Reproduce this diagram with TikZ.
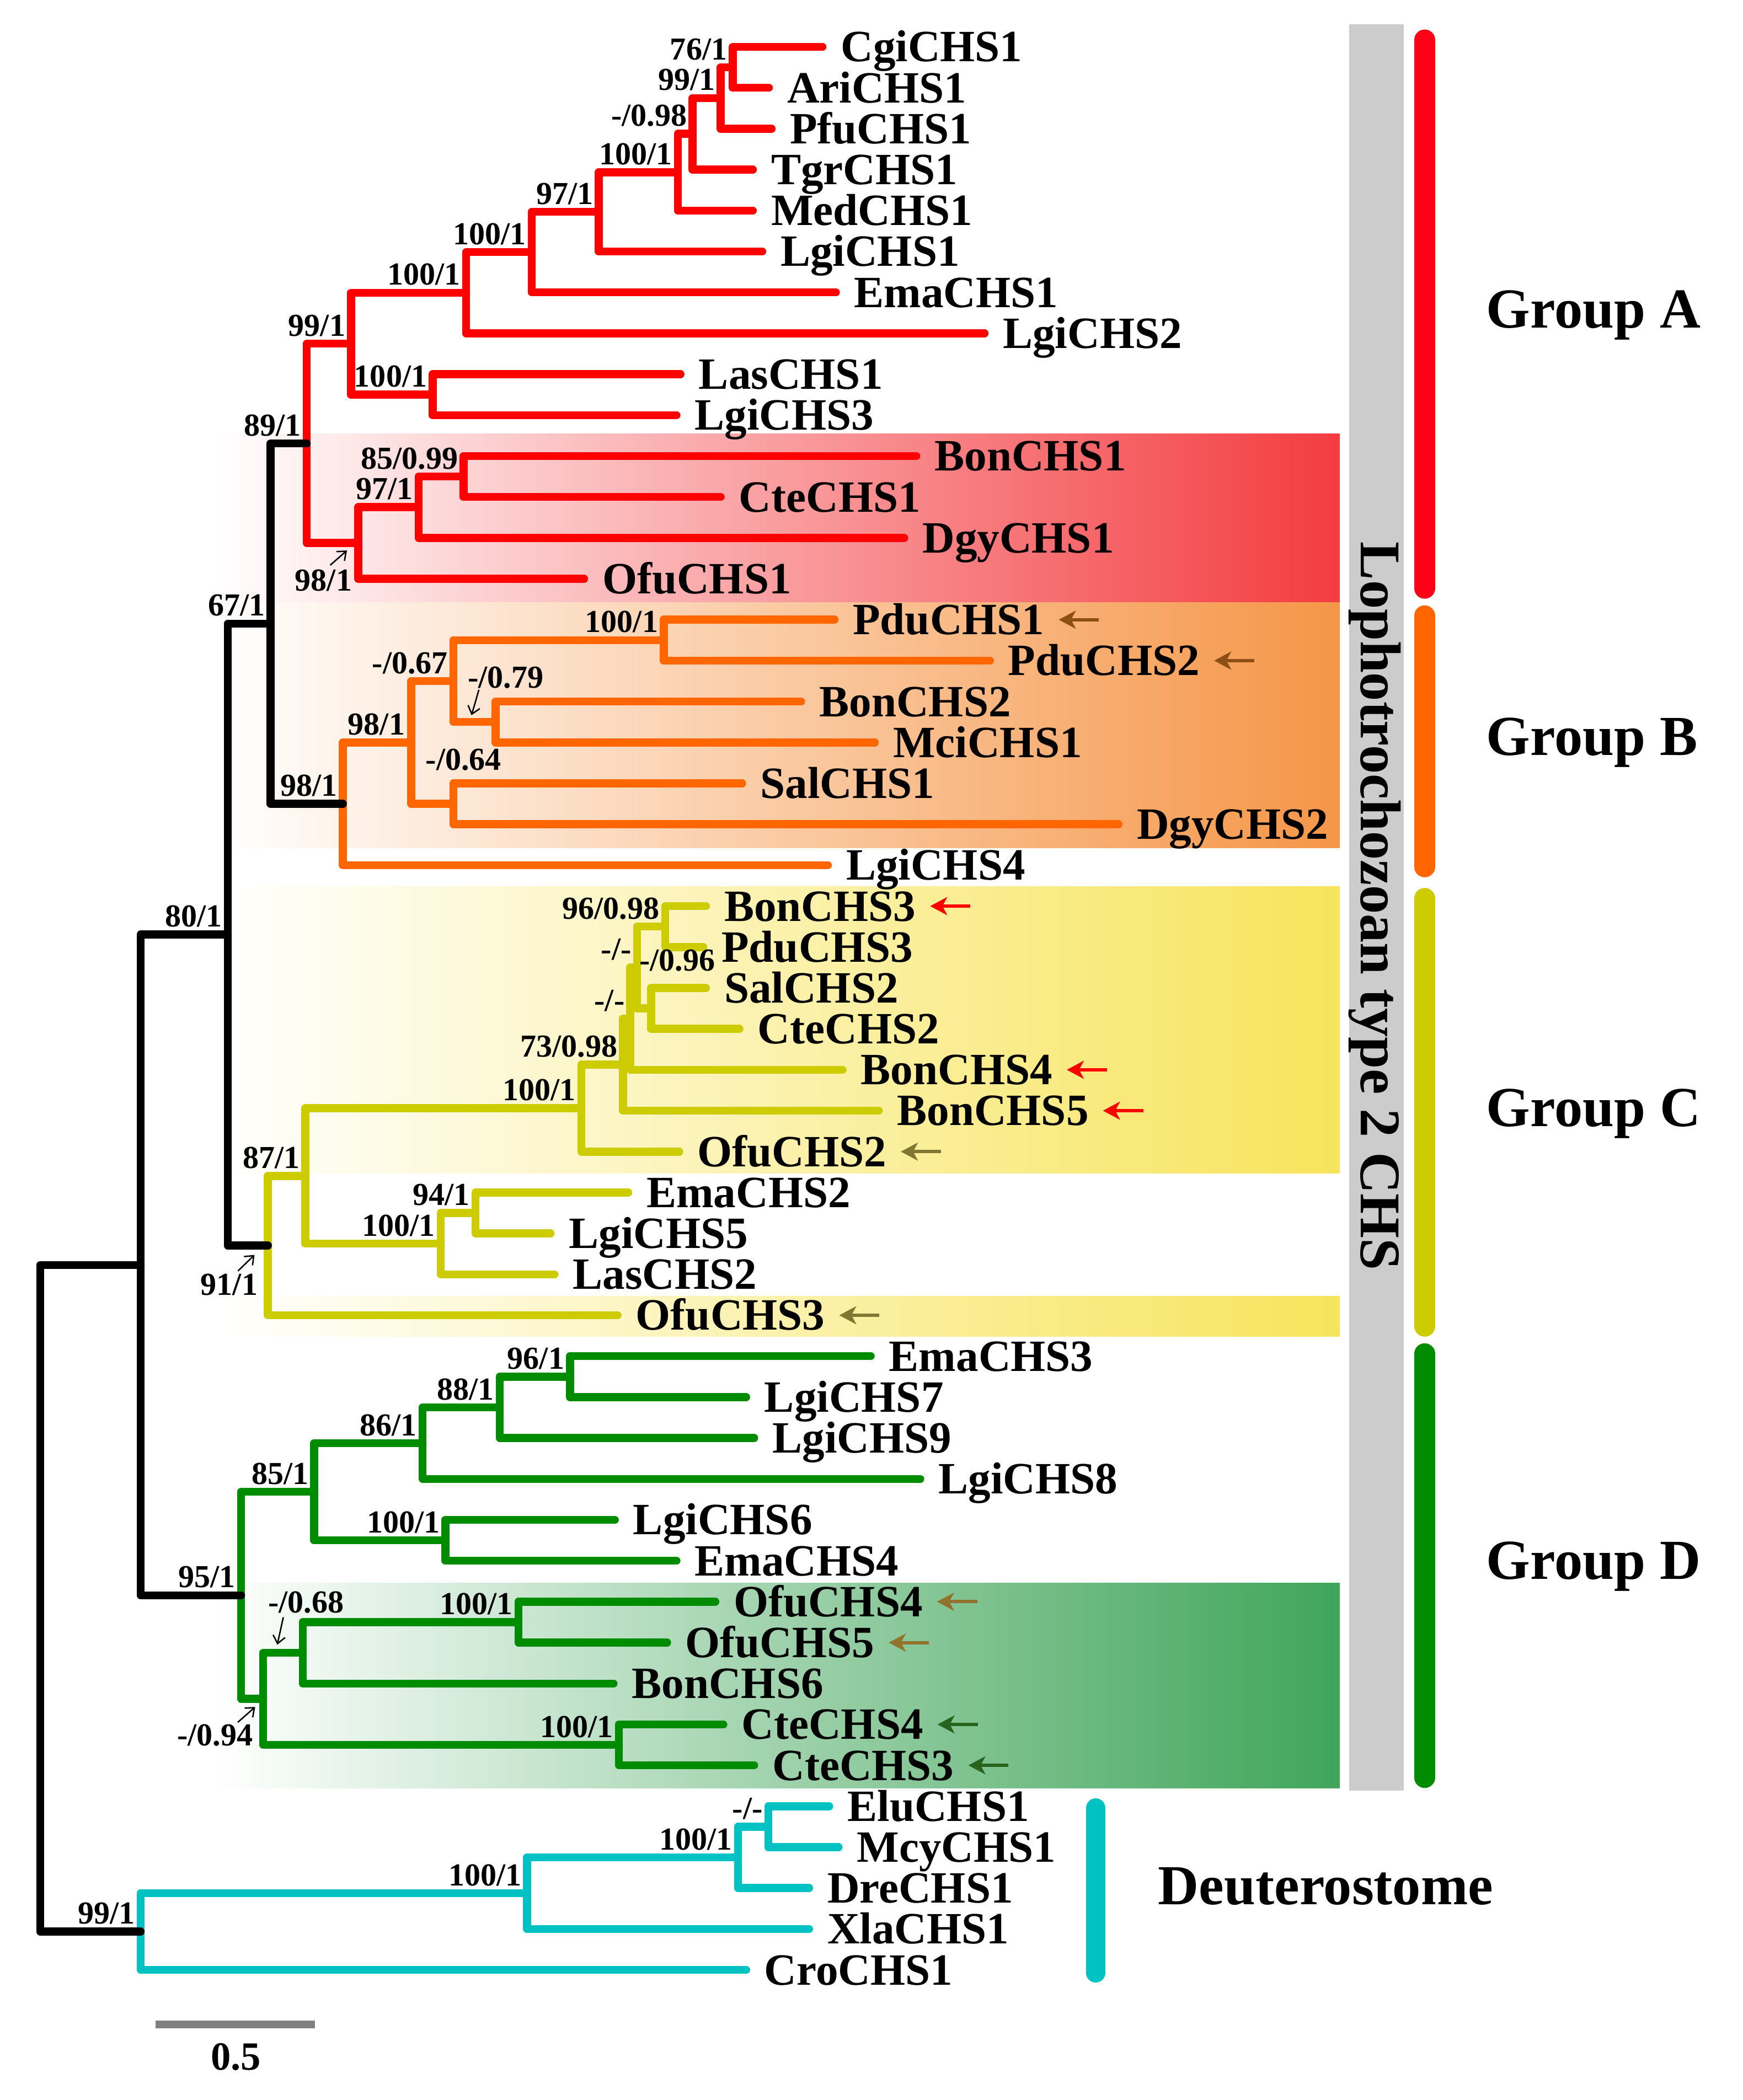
\documentclass[tikz,border=0pt]{standalone}
\usepackage{fontspec}
\setmainfont{Liberation Serif}
\usetikzlibrary{arrows.meta}

\definecolor{treered}{RGB}{255,0,0}
\definecolor{treeorange}{RGB}{255,102,0}
\definecolor{treeyellow}{RGB}{204,204,0}
\definecolor{treegreen}{RGB}{0,140,0}
\definecolor{treecyan}{RGB}{0,194,194}
\definecolor{boxred}{RGB}{243,60,64}
\definecolor{boxorange}{RGB}{245,150,72}
\definecolor{boxyellow}{RGB}{247,228,92}
\definecolor{boxgreen}{RGB}{64,165,90}
\definecolor{barred}{RGB}{255,0,24}
\definecolor{pduc}{RGB}{140,80,20}
\definecolor{ofuc}{RGB}{128,120,50}
\definecolor{ofud}{RGB}{145,115,45}
\definecolor{ctec}{RGB}{40,100,30}

\begin{document}
\begin{tikzpicture}[x=0.01cm, y=-0.01cm,
  br/.style={line width=1.7pt, line cap=round, line join=round},
  leaf/.style={anchor=west, inner sep=0pt, font=\fontsize{9.5}{11}\selectfont\bfseries, text height=6.3pt, text depth=0pt},
  bs/.style={anchor=south east, inner sep=0pt, xshift=-0.035cm, yshift=0.05cm, font=\fontsize{6.8}{8}\selectfont\bfseries, text height=4.6pt, text depth=0pt},
  bsat/.style={bs, anchor=base, xshift=0cm, yshift=0cm},
  flag/.style={line width=0.7pt, -{Stealth[length=3.6pt,width=3.8pt,inset=1pt]}},
  pointer/.style={line width=0.3pt, -{Straight Barb[length=1.6pt,width=2.6pt]}},
  grp/.style={anchor=west, inner sep=0pt, font=\fontsize{12}{14}\selectfont\bfseries, text height=7.9pt, text depth=0pt},
  colbar/.style={line width=0.155cm, line cap=round}]

\useasboundingbox (0,0) rectangle (1301,1568);

% shaded groups
\shade[left color=white, right color=boxred] (160,324) rectangle (1000,450);
\shade[left color=white, right color=boxorange] (160,450) rectangle (1000,633);
\shade[left color=white, right color=boxyellow] (160,662) rectangle (1000,876);
\shade[left color=white, right color=boxyellow] (160,968) rectangle (1000,998);
\shade[left color=white, right color=boxgreen] (160,1182) rectangle (1000,1335);

\fill[gray!40] (1007,18) rectangle (1048,1337);
\node[rotate=-90, anchor=base, inner sep=0pt, font=\fontsize{12.2}{14}\selectfont\bfseries] (loph) at (1016,676.5) {Lophotrochozoan type 2 CHS};

\draw[colbar, barred] (1063.5,29.75) -- (1063.5,439.25);
\draw[colbar, treeorange] (1063.5,459.75) -- (1063.5,647.25);
\draw[colbar, treeyellow] (1063.5,670.75) -- (1063.5,990.25);
\draw[colbar, treegreen] (1063.5,1010.75) -- (1063.5,1327.25);
\draw[colbar, treecyan, line width=0.145cm] (818,1350) -- (818,1473);

\node[grp] (grpA) at (1109,231) {Group A};
\node[grp] (grpB) at (1109,550) {Group B};
\node[grp] (grpC) at (1109,827) {Group C};
\node[grp] (grpD) at (1109,1165) {Group D};
\node[grp] (deut) at (864,1408) {Deuterostome};

% leaves
\foreach \tx/\lab [count=\i] in {616/CgiCHS1, 576/AriCHS1, 578/PfuCHS1, 564/TgrCHS1, 564/MedCHS1,
    571/LgiCHS1, 626/EmaCHS1, 737/LgiCHS2, 510/LasCHS1, 507/LgiCHS3, 686/BonCHS1, 540/CteCHS1,
    677/DgyCHS1, 438/OfuCHS1, 625/PduCHS1, 741/PduCHS2, 600/BonCHS2, 655/MciCHS1, 556/SalCHS1,
    837/DgyCHS2, 620/LgiCHS4, 529/BonCHS3, 527/PduCHS3, 529/SalCHS2, 554/CteCHS2, 631/BonCHS4,
    658/BonCHS5, 509/OfuCHS2, 471/EmaCHS2, 413/LgiCHS5, 416/LasCHS2, 463/OfuCHS3, 652/EmaCHS3,
    559/LgiCHS7, 565/LgiCHS9, 689/LgiCHS8, 461/LgiCHS6, 507/EmaCHS4, 536/OfuCHS4, 500/OfuCHS5,
    460/BonCHS6, 542/CteCHS4, 565/CteCHS3, 621/EluCHS1, 628/McyCHS1, 606/DreCHS1, 606/XlaCHS1,
    559/CroCHS1} {
  \coordinate (\lab) at (\tx-2, 4.45+30.55*\i);
  \node[leaf] (\lab-t) at (\tx+11, 4.45+30.55*\i) {\lab};
}

% inner nodes
\coordinate (nA1) at (547,50.28);
\coordinate (nA2) at (538,73.19);
\coordinate (nA3) at (517,99.92);
\coordinate (nA4) at (506,128.56);
\coordinate (nA5) at (447,158.16);
\coordinate (nA6) at (397,188.23);
\coordinate (nA7) at (348,218.54);
\coordinate (nA8) at (323,294.68);
\coordinate (nA9) at (262,256.61);
\coordinate (nA10) at (346,355.78);
\coordinate (nA11) at (312.5,378.69);
\coordinate (nA12) at (267.5,405.42);
\coordinate (nA13) at (229,331.02);
\coordinate (nB1) at (495.5,477.98);
\coordinate (nB2) at (370,539.08);
\coordinate (nB3) at (338.5,508.53);
\coordinate (nB4) at (338.5,600.18);
\coordinate (nB5) at (307,554.36);
\coordinate (nB6) at (256,600.18);
\coordinate (n67) at (202,465.6);
\coordinate (nC1) at (496.5,691.83);
\coordinate (nC2) at (486,752.93);
\coordinate (nC3) at (475.5,722.38);
\coordinate (nC4) at (470.5,760.57);
\coordinate (nC5) at (465,794.93);
\coordinate (nC6) at (434,827.39);
\coordinate (nC7) at (355,905.68);
\coordinate (nC8) at (329,928.59);
\coordinate (nC9) at (228,877.99);
\coordinate (nC10) at (200,930.02);
\coordinate (n80) at (170,697.81);
\coordinate (nD1) at (425.5,1027.88);
\coordinate (nD2) at (373,1050.79);
\coordinate (nD3) at (315.5,1077.52);
\coordinate (nD4) at (332.5,1150.08);
\coordinate (nD5) at (234.5,1113.8);
\coordinate (nD6) at (387,1211.18);
\coordinate (nD7) at (226,1234.09);
\coordinate (nD8) at (462,1302.83);
\coordinate (nD9) at (196.5,1268.46);
\coordinate (nD10) at (180,1191.13);
\coordinate (nR) at (105,944.47);
\coordinate (nE1) at (573.5,1363.93);
\coordinate (nE2) at (551,1386.84);
\coordinate (nE3) at (393.5,1413.57);
\coordinate (nE4) at (105,1442.21);
\coordinate (root) at (30,1193.34);

% branches
\foreach \p/\c in {nA13/nA9, nA13/nA12, nA9/nA7, nA9/nA8, nA7/nA6, nA7/LgiCHS2, nA6/nA5, nA6/EmaCHS1,
    nA5/nA4, nA5/LgiCHS1, nA4/nA3, nA4/MedCHS1, nA3/nA2, nA3/TgrCHS1, nA2/nA1, nA2/PfuCHS1,
    nA1/CgiCHS1, nA1/AriCHS1, nA8/LasCHS1, nA8/LgiCHS3, nA12/nA11, nA12/OfuCHS1, nA11/nA10,
    nA11/DgyCHS1, nA10/BonCHS1, nA10/CteCHS1}
  \draw[br, treered] (\p) |- (\c);
\foreach \p/\c in {nB6/nB5, nB6/LgiCHS4, nB5/nB3, nB5/nB4, nB3/nB1, nB3/nB2, nB1/PduCHS1, nB1/PduCHS2,
    nB2/BonCHS2, nB2/MciCHS1, nB4/SalCHS1, nB4/DgyCHS2}
  \draw[br, treeorange] (\p) |- (\c);
\foreach \p/\c in {nC10/nC9, nC10/OfuCHS3, nC9/nC6, nC9/nC8, nC6/nC5, nC6/OfuCHS2, nC5/nC4, nC5/BonCHS5,
    nC4/nC3, nC4/BonCHS4, nC3/nC1, nC3/nC2, nC1/BonCHS3, nC1/PduCHS3, nC2/SalCHS2, nC2/CteCHS2,
    nC8/nC7, nC8/LasCHS2, nC7/EmaCHS2, nC7/LgiCHS5}
  \draw[br, treeyellow] (\p) |- (\c);
\foreach \p/\c in {nD10/nD5, nD10/nD9, nD5/nD3, nD5/nD4, nD3/nD2, nD3/LgiCHS8, nD2/nD1, nD2/LgiCHS9,
    nD1/EmaCHS3, nD1/LgiCHS7, nD4/LgiCHS6, nD4/EmaCHS4, nD9/nD7, nD9/nD8, nD7/nD6, nD7/BonCHS6,
    nD6/OfuCHS4, nD6/OfuCHS5, nD8/CteCHS4, nD8/CteCHS3}
  \draw[br, treegreen] (\p) |- (\c);
\foreach \p/\c in {nE4/nE3, nE4/CroCHS1, nE3/nE2, nE3/XlaCHS1, nE2/nE1, nE2/DreCHS1, nE1/EluCHS1, nE1/McyCHS1}
  \draw[br, treecyan] (\p) |- (\c);
\foreach \p/\c in {root/nR, root/nE4, nR/n80, nR/nD10, n80/n67, n80/nC10, n67/nA13, n67/nB6}
  \draw[br, black] (\p) |- (\c);

% support values
\node[bs] (sA1) at (nA1) {76/1};
\node[bs] (sA2) at (nA2) {99/1};
\node[bs] (sA3) at (nA3) {-/0.98};
\node[bs] (sA4) at (nA4) {100/1};
\node[bs] (sA5) at (nA5) {97/1};
\node[bs] (sA6) at (nA6) {100/1};
\node[bs] (sA7) at (nA7) {100/1};
\node[bs] (sA8) at (nA8) {100/1};
\node[bs] (sA9) at (nA9) {99/1};
\node[bs] (sA10) at (nA10) {85/0.99};
\node[bs] (sA11) at (nA11) {97/1};
\node[bsat] (sA12) at (245,446) {98/1};
\node[bs] (sA13) at (nA13) {89/1};
\node[bs] (s67) at (n67) {67/1};
\node[bs] (sB1) at (nB1) {100/1};
\node[bsat] (sB2) at (381,518.5) {-/0.79};
\node[bs] (sB3) at (nB3) {-/0.67};
\node[bsat] (sB4) at (349.5,580) {-/0.64};
\node[bs, xshift=-0.005cm] (sB5) at (nB5) {98/1};
\node[bs] (sB6) at (nB6) {98/1};
\node[bs] (s80) at (n80) {80/1};
\node[bs] (sC1) at (nC1) {96/0.98};
\node[bsat] (sC2) at (509,730) {-/0.96};
\node[bs] (sC3) at (nC3) {-/-};
\node[bs] (sC4) at (nC4) {-/-};
\node[bs] (sC5) at (nC5) {73/0.98};
\node[bs] (sC6) at (nC6) {100/1};
\node[bs] (sC7) at (nC7) {94/1};
\node[bs] (sC8) at (nC8) {100/1};
\node[bs] (sC9) at (nC9) {87/1};
\node[bsat] (sC10) at (174.6,972) {91/1};
\node[bs] (sD1) at (nD1) {96/1};
\node[bs] (sD2) at (nD2) {88/1};
\node[bs] (sD3) at (nD3) {86/1};
\node[bs] (sD4) at (nD4) {100/1};
\node[bs] (sD5) at (nD5) {85/1};
\node[bs] (sD6) at (nD6) {100/1};
\node[bsat] (sD7) at (232,1209) {-/0.68};
\node[bs] (sD8) at (nD8) {100/1};
\node[bsat] (sD9) at (164,1308.5) {-/0.94};
\node[bs] (sD10) at (nD10) {95/1};
\node[bs] (sE1) at (nE1) {-/-};
\node[bs] (sE2) at (nE2) {100/1};
\node[bs] (sE3) at (nE3) {100/1};
\node[bs] (sE4) at (nE4) {99/1};

\coordinate (aA12) at (259,411);
\coordinate (aB2) at (352,534);
\coordinate (aC10) at (190,937);
\coordinate (aD7) at (207,1228);
\coordinate (aD9) at (190.5,1274.5);
\draw[pointer] (sA12.base) ++(5,-19) -- (aA12);
\draw[pointer] (sB2.base) ++(-20,1.5) -- (aB2);
\draw[pointer] (sC10.base) ++(6.5,-18) -- (aC10);
\draw[pointer] (sD7.base) ++(-17,3.5) -- (aD7);
\draw[pointer] (sD9.base) ++(17,-17.5) -- (aD9);

% marked sequences
\foreach \lab/\col in {PduCHS1/pduc, PduCHS2/pduc, BonCHS3/red, BonCHS4/red, BonCHS5/red,
    OfuCHS2/ofuc, OfuCHS3/ofuc, OfuCHS4/ofud, OfuCHS5/ofud, CteCHS4/ctec, CteCHS3/ctec}
  \draw[flag, \col] ([xshift=0.4cm]\lab-t.east) -- ([xshift=0.1cm]\lab-t.east);

% scale
\coordinate (sc1) at (116,1511.5);
\coordinate (sc2) at (235,1511.5);
\draw[line width=1.6pt, gray] (sc1) -- (sc2);
\node[inner sep=0pt, font=\fontsize{8.5}{10}\selectfont\bfseries] (sclab) at (176,1536) {0.5};
\end{tikzpicture}
\end{document}
